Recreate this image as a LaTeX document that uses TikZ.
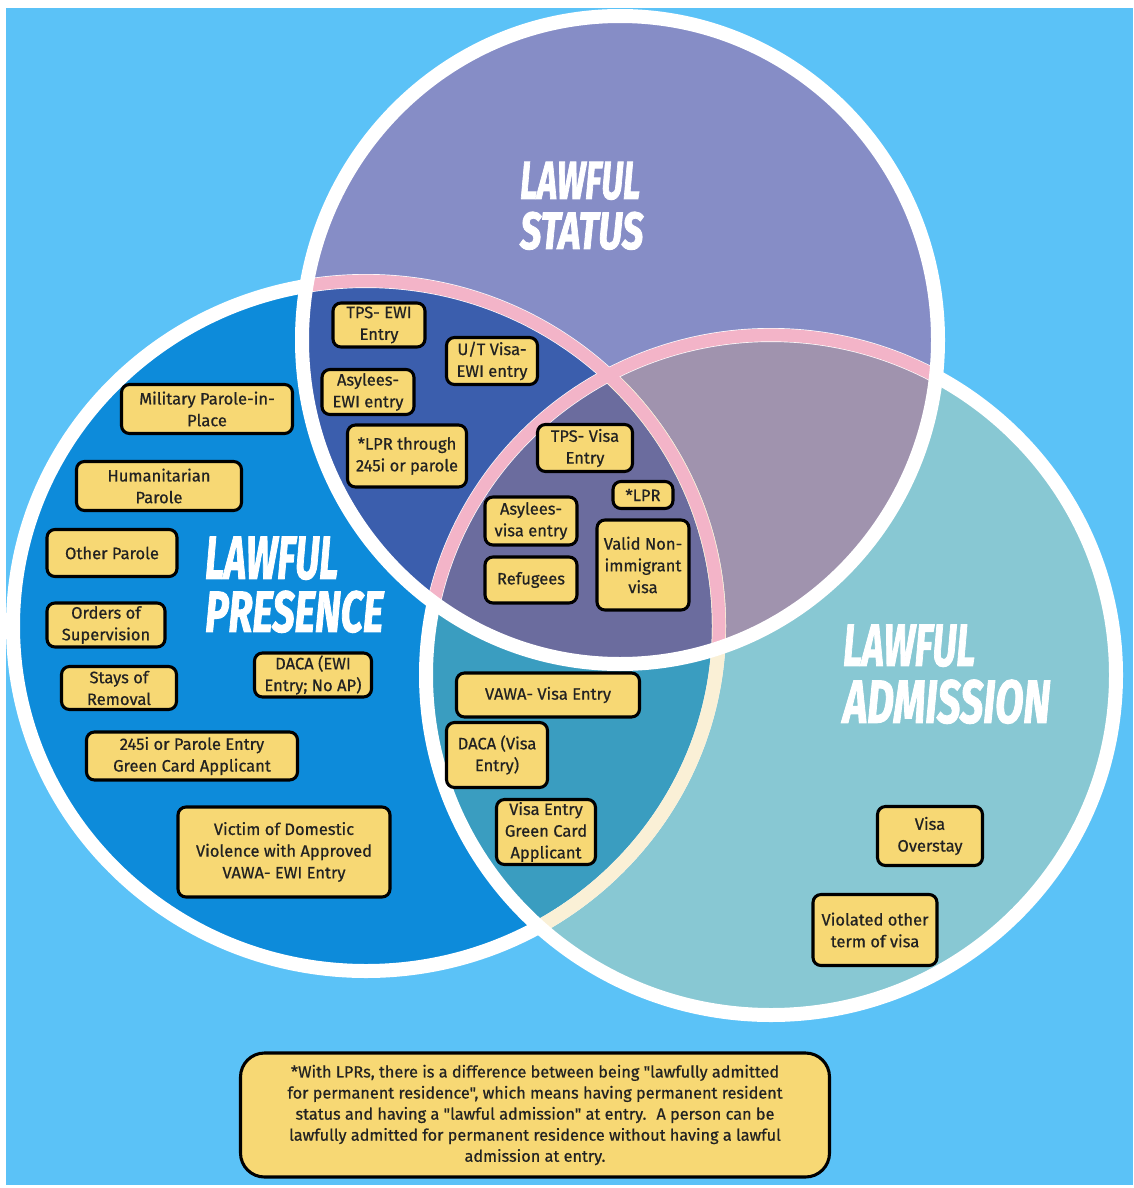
\documentclass[tikz,border=0pt]{standalone}
\usepackage{fontspec}
\usepackage{graphicx}
\setmainfont{Fira Sans}[Ligatures=TeXOff, UprightFeatures={FakeBold=0.6}]
\newfontfamily\titlefont{Fira Sans}[BoldItalicFeatures={FakeBold=2}]
\definecolor{bgblue}{HTML}{5BC2F7}
\definecolor{presC}{HTML}{0D8BDA}
\definecolor{statC}{HTML}{868DC6}
\definecolor{admC}{HTML}{88C8D3}
\definecolor{spC}{HTML}{3B5EAD}
\definecolor{saC}{HTML}{A093AE}
\definecolor{paC}{HTML}{3A9DC0}
\definecolor{triC}{HTML}{6B6C9E}
\definecolor{pinkC}{HTML}{F3B4C8}
\definecolor{creamC}{HTML}{FAF0D6}
\definecolor{boxY}{HTML}{F7D874}
\definecolor{txtC}{HTML}{222222}
\newcommand\boxfont{\fontsize{12.4}{16.3}\selectfont}
\newcommand\notefont{\fontsize{12.2}{15.8}\selectfont}
\newcommand\Ppath{(366,626) ellipse [x radius=353, y radius=345]}
\newcommand\Spath{(620,340) ellipse [x radius=318, y radius=324]}
\newcommand\Apath{(771,675) ellipse [x radius=345, y radius=340]}
\newcommand\ybx[6]{\node[ybox, minimum width={#4*0.75pt}, minimum height={#5*0.75pt}] (#1) at (#2,#3) {#6};}
\newcommand\ttl[6]{\node[anchor=south west, inner sep=0pt, text=white] (#1) at (#2,#3) {\resizebox{#4pt}{#5pt}{\titlefont\bfseries\itshape #6}};}
\begin{document}
\begin{tikzpicture}[x=0.75pt,y=-0.75pt,
  ring/.style={line width=10.5pt},
  pring/.style={line width=9.5pt},
  ybox/.style={draw=black, line width=2.3pt, fill=boxY, rounded corners=6pt,
    align=center, font=\boxfont, text=txtC, inner sep=1pt}]
\useasboundingbox (0,0) rectangle (1133,1188);
\fill[white] (0,0) rectangle (1133,1188);
\fill[bgblue] (6,8) rectangle (1133,1185);
% circle fills
\fill[presC] \Ppath;
\fill[statC] \Spath;
\fill[admC] \Apath;
\begin{scope}
  \clip \Ppath;
  \fill[paC] \Apath;
\end{scope}
\begin{scope}
  \clip \Spath;
  \fill[spC] \Ppath;
  \fill[saC] \Apath;
  \clip \Ppath;
  \fill[triC] \Apath;
\end{scope}
% circle outlines
\draw[white, ring] \Ppath;
\begin{scope}
  \clip \Apath;
  \draw[creamC, ring] \Ppath;
\end{scope}
\draw[white, ring] \Apath;
\begin{scope}
  \clip \Spath;
  \draw[pinkC, pring] \Ppath;
  \draw[pinkC, pring] \Apath;
\end{scope}
\draw[white, ring] \Spath;
% titles
\ttl{stA}{520}{200}{90}{27.75}{LAWFUL}
\ttl{stB}{520}{250}{92.25}{27.75}{STATUS}
\ttl{prA}{205}{580}{99.75}{31.5}{LAWFUL}
\ttl{prB}{205}{633}{133.5}{30.75}{PRESENCE}
\ttl{adA}{843}{667}{99}{30.75}{LAWFUL}
\ttl{adB}{843}{724}{155.25}{32.25}{ADMISSION}
% boxes: status & presence
\ybx{tpsewi}{379}{325}{92}{44}{TPS- EWI\\Entry}
\ybx{utvisa}{492}{361}{91}{47}{U/T Visa-\\EWI entry}
\ybx{asyewi}{368}{392}{92}{45}{Asylees-\\EWI entry}
\ybx{lprpar}{407}{456}{119}{62}{*LPR through\\245i or parole}
% triple
\ybx{tpsvisa}{585}{448}{95}{47}{TPS- Visa\\Entry}
\ybx{lpr}{643}{495}{60}{27}{*LPR}
\ybx{asyvisa}{531}{521}{92}{48}{Asylees-\\visa entry}
\ybx{validni}{643}{565}{92}{90}{Valid Non-\\immigrant\\visa}
\ybx{refugees}{531}{580}{92}{46}{Refugees}
% presence only
\ybx{military}{207}{409}{171}{49}{Military Parole-in-\\Place}
\ybx{humani}{159}{486}{165}{49}{Humanitarian\\Parole}
\ybx{otherp}{112}{553}{130}{47}{Other Parole}
\ybx{orders}{106}{625}{118}{44}{Orders of\\Supervision}
\ybx{stays}{119}{688}{115}{43}{Stays of\\Removal}
\ybx{dacaewi}{313}{675}{117}{44}{DACA (EWI\\Entry; No AP)}
\ybx{gcparole}{192}{756}{211}{48}{245i or Parole Entry\\Green Card Applicant}
\ybx{victim}{284}{852}{212}{90}{Victim of Domestic\\Violence with Approved\\VAWA- EWI Entry}
% presence & admission
\ybx{vawavisa}{548}{695}{183}{44}{VAWA- Visa Entry}
\ybx{dacavisa}{497}{755}{101}{65}{DACA (Visa\\Entry)}
\ybx{visagc}{546}{832}{99}{65}{Visa Entry\\Green Card\\Applicant}
% admission only
\ybx{overstay}{930}{836}{105}{59}{Visa\\Overstay}
\ybx{violated}{875}{930}{124}{71}{Violated other\\term of visa}
% footnote
\node[draw=black, line width=2.3pt, fill=boxY, rounded corners=18pt, align=center,
  font=\notefont, text=txtC, minimum width={589*0.75pt}, minimum height={124*0.75pt}, inner sep=1pt]
  (note) at (535,1115) {*With LPRs, there is a difference between being "lawfully admitted\\
  for permanent residence", which means having permanent resident\\
  status and having a "lawful admission" at entry.~ A person can be\\
  lawfully admitted for permanent residence without having a lawful\\
  admission at entry.};
\end{tikzpicture}
\end{document}
